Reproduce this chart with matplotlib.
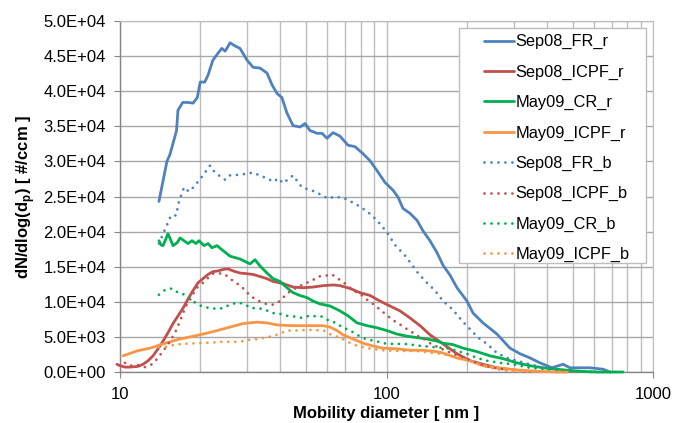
import numpy as np
import matplotlib
matplotlib.use("Agg")
import matplotlib.pyplot as plt
from matplotlib.ticker import LogLocator, FixedLocator, FuncFormatter, MultipleLocator
from matplotlib.patches import Rectangle

plt.rcParams["font.family"] = ["Liberation Sans", "DejaVu Sans"]

# --- data (mobility diameter in nm, dN/dlog(dp) in #/ccm) ---
SERIES_NAMES = ["Sep08_FR_r", "Sep08_ICPF_r", "May09_CR_r", "May09_ICPF_r",
                "Sep08_FR_b", "Sep08_ICPF_b", "May09_CR_b", "May09_ICPF_b"]

sep08_fr_r_d = [14.0, 15.0, 15.4, 16.3, 16.5, 17.2, 18.0, 18.8, 19.5, 20.0,
                20.8, 21.4, 22.3, 23.3, 24.1, 24.8, 25.9, 26.6, 27.5, 28.2,
                30.0, 31.6, 33.5, 35.6, 37.2, 38.8, 40.5, 42.3, 44.6, 47.4,
                49.5, 51.6, 54.9, 57.3, 59.8, 63.0, 66.9, 71.7, 76.2, 81.6,
                86.7, 92.1, 98.7, 105.8, 110.5, 115.3, 122.5, 130.2, 137.1, 145.6,
                154.7, 163.0, 173.1, 183.9, 200.5, 211.2, 230.1, 259.8, 290.6, 317.0,
                345.6, 376.7, 417.8, 459.5, 488.2, 532.1, 580.1, 649.1, 689.6]
sep08_fr_r_n = [24300, 30000, 31000, 34400, 37300, 38400, 38400, 38300, 39100, 41300,
                41300, 42300, 44400, 45400, 46100, 45700, 46900, 46600, 46300, 46100,
                44400, 43400, 43300, 42600, 40900, 39700, 39100, 36900, 35100, 34900,
                35400, 34400, 34000, 34000, 33300, 34100, 33600, 32300, 32100, 31100,
                30100, 28700, 27000, 25900, 24900, 23300, 22600, 21600, 20100, 18700,
                17000, 15200, 13800, 12000, 10100, 8400, 7000, 5400, 3400, 2600,
                2000, 1300, 600, 1100, 600, 600, 600, 400, 0]

sep08_icpf_r_d = [9.74, 10.0, 10.44, 10.92, 11.68, 12.2, 12.74, 13.3, 13.89, 14.5,
                  15.14, 15.81, 16.51, 17.24, 18.0, 18.79, 19.62, 20.48, 21.39, 22.34,
                  23.32, 24.35, 25.42, 26.55, 28.2, 29.96, 31.56, 33.52, 35.61, 37.5,
                  40.89, 44.59, 48.6, 53.0, 57.78, 63.0, 66.93, 72.98, 79.56, 86.74,
                  94.54, 103.1, 112.4, 122.5, 133.6, 145.6, 163.0, 183.9, 205.8, 230.1,
                  259.8, 283.3]
sep08_icpf_r_n = [1100, 900, 700, 700, 800, 1100, 1600, 2300, 3300, 4400,
                  5600, 6900, 8000, 9100, 10400, 11600, 12700, 13300, 13900, 14300,
                  14400, 14600, 14700, 14400, 14100, 14000, 13900, 13600, 13300, 12900,
                  12600, 12100, 12000, 12100, 12300, 12400, 12300, 11900, 11300, 10900,
                  10100, 9400, 8700, 7700, 6600, 5300, 4000, 2600, 1600, 1100,
                  600, 400]

may09_cr_r_d = [14.0, 14.25, 14.5, 14.88, 15.14, 15.54, 15.81, 16.37, 16.8, 17.39,
                18.0, 18.63, 19.28, 19.79, 20.66, 21.39, 22.14, 23.12, 24.35, 25.87,
                28.2, 30.74, 32.11, 33.52, 35.61, 37.5, 39.85, 42.33, 44.59, 47.36,
                50.31, 53.0, 56.3, 61.38, 66.93, 71.73, 77.52, 84.52, 92.13, 100.4,
                109.5, 119.4, 130.2, 141.9, 154.7, 163.0, 177.6, 193.7, 218.6, 244.6,
                273.6, 308.8, 345.6, 386.6, 459.5, 532.1, 616.3, 771.7]
may09_cr_r_n = [18700, 18100, 18000, 19000, 19700, 18700, 18000, 18400, 19100, 18700,
                18300, 18700, 18300, 18700, 18000, 18300, 17700, 18000, 17300, 16500,
                16100, 15400, 16000, 15100, 14100, 13300, 12900, 12000, 11300, 10900,
                10600, 10100, 9700, 9400, 8700, 8000, 7000, 6600, 6300, 5900,
                5400, 5100, 4900, 4700, 4400, 4100, 3900, 3400, 2900, 2300,
                1900, 1300, 900, 600, 300, 100, 0, 0]

may09_icpf_r_d = [10.26, 11.58, 12.96, 14.5, 16.37, 18.31, 20.48, 23.12, 25.87, 28.94,
                  32.67, 35.61, 38.82, 44.59, 51.64, 57.78, 61.38, 65.22, 68.69, 74.9,
                  81.65, 89.02, 97.02, 109.5, 122.5, 137.1, 154.7, 163.0, 183.9, 205.8,
                  230.1, 259.8, 308.8, 367.1, 436.3, 475.7]
may09_icpf_r_n = [2300, 3000, 3400, 4000, 4600, 5000, 5400, 5900, 6400, 6900,
                  7100, 7000, 6700, 6600, 6600, 6600, 6400, 5900, 5300, 4700,
                  4100, 3700, 3400, 3300, 3100, 3100, 2900, 2700, 2000, 1600,
                  900, 600, 300, 100, 0, 0]

sep08_fr_b_d = [14.0, 14.75, 15.54, 16.23, 16.65, 17.39, 18.15, 18.95, 19.79, 20.48,
                21.76, 22.72, 24.77, 25.64, 28.2, 31.56, 35.0, 37.83, 39.16, 40.89,
                44.59, 48.19, 53.92, 60.33, 64.1, 69.89, 76.86, 84.52, 92.13, 100.4,
                107.6, 117.3, 131.3, 141.9, 152.1, 163.0, 176.1, 192.0, 205.8, 220.5,
                238.4, 259.8, 283.3, 308.8, 345.6, 386.6, 436.3]
sep08_fr_b_n = [18300, 20300, 22300, 22300, 24300, 26300, 25700, 26400, 27300, 28000,
                29400, 28400, 27400, 28000, 28100, 28400, 27700, 27100, 27600, 26900,
                28000, 26300, 25700, 24700, 25000, 24700, 23900, 22900, 21600, 19900,
                18100, 16600, 14100, 12700, 11600, 10100, 9000, 7300, 6100, 4900,
                4000, 2700, 2000, 1600, 1100, 600, 400]

sep08_icpf_b_d = [10.44, 10.92, 11.68, 12.41, 13.18, 13.89, 14.5, 15.01, 15.54, 16.08,
                  16.51, 16.94, 17.24, 17.69, 18.31, 18.79, 19.45, 20.48, 21.39, 22.34,
                  23.32, 24.77, 25.87, 27.24, 28.7, 29.96, 31.56, 33.24, 35.3, 37.5,
                  39.85, 41.61, 44.2, 46.55, 49.45, 52.54, 55.34, 58.79, 62.44, 65.78,
                  69.29, 72.98, 76.86, 80.94, 84.52, 89.02, 93.74, 98.71, 104.0, 108.6,
                  114.3, 119.4, 125.7, 131.3, 138.3, 145.6, 158.8, 177.6, 200.5, 224.4,
                  251.0, 273.6]
sep08_icpf_b_n = [1300, 900, 1000, 700, 1100, 2000, 3000, 3700, 4600, 5600,
                  6600, 7600, 8400, 9400, 10300, 11100, 12000, 12700, 13400, 14000,
                  14100, 13900, 13300, 12700, 12100, 11300, 10600, 10100, 9700, 9600,
                  10100, 10900, 11700, 12100, 12600, 13000, 13600, 13700, 13900, 13300,
                  12700, 12000, 11400, 10900, 10300, 9700, 9000, 8300, 7600, 7100,
                  6600, 6100, 5600, 5100, 4700, 4100, 3400, 2600, 1900, 1100,
                  600, 400]

may09_cr_b_d = [14.0, 14.75, 15.67, 16.51, 17.54, 18.47, 19.45, 20.48, 21.76, 23.12,
                24.35, 25.87, 27.72, 29.2, 31.01, 32.96, 35.0, 37.18, 39.85, 42.33,
                45.36, 48.19, 51.19, 57.28, 60.85, 64.66, 68.69, 72.35, 76.86, 80.94,
                85.26, 91.36, 97.02, 104.9, 117.3, 135.9, 154.7, 168.7, 183.9, 200.5,
                218.6, 238.4, 266.6, 298.3, 345.6, 400.2, 459.5, 518.6, 595.4]
may09_cr_b_n = [11000, 11700, 11900, 11300, 11000, 10300, 9700, 9300, 9100, 9000,
                9100, 9600, 9900, 9700, 9100, 9100, 8900, 8400, 8300, 8000,
                7900, 7700, 8000, 7900, 7300, 7000, 6300, 6000, 5400, 4900,
                4600, 4400, 4100, 4000, 4000, 3700, 3500, 3400, 3000, 2600,
                2000, 1600, 1300, 1100, 600, 400, 300, 100, 0]

may09_icpf_b_d = [14.0, 14.88, 16.08, 17.24, 19.45, 22.34, 23.73, 27.01, 28.94, 30.74,
                  32.96, 35.0, 37.18, 39.5, 42.33, 44.97, 51.19, 58.28, 61.91, 65.78,
                  69.29, 74.25, 78.2, 84.52, 96.19, 110.5, 127.9, 137.1, 149.4, 163.0,
                  183.9, 205.8, 230.1, 259.8, 290.6, 336.7, 386.6]
may09_icpf_b_n = [3500, 3600, 3900, 4000, 4100, 4200, 4300, 4300, 4400, 4600,
                  4700, 4900, 5100, 5400, 5900, 5900, 6000, 5900, 5300, 5000,
                  4600, 4000, 3700, 3400, 3100, 3000, 3000, 2900, 2700, 2600,
                  2000, 1600, 900, 400, 100, 0, 0]

X_DATA = [sep08_fr_r_d, sep08_icpf_r_d, may09_cr_r_d, may09_icpf_r_d,
          sep08_fr_b_d, sep08_icpf_b_d, may09_cr_b_d, may09_icpf_b_d]
Y_DATA = [sep08_fr_r_n, sep08_icpf_r_n, may09_cr_r_n, may09_icpf_r_n,
          sep08_fr_b_n, sep08_icpf_b_n, may09_cr_b_n, may09_icpf_b_n]

COLORS = ["#4F81BD", "#C0504D", "#00B050", "#F79646"] * 2
STYLES = ["-"] * 4 + [(0, (0.01, 2.5))] * 4


def main():
    fig = plt.figure(figsize=(6.73, 4.23), dpi=100)
    ax = fig.add_axes([120 / 673, 1 - 372 / 423, 533 / 673, 351 / 423])

    for xs, ys, name, c, ls in zip(X_DATA, Y_DATA, SERIES_NAMES, COLORS, STYLES):
        ax.plot(xs, ys, color=c, linestyle=ls, lw=2.0, label=name,
                solid_capstyle="round", dash_capstyle="round",
                clip_on=False, zorder=3)

    ax.set_xscale("log")
    ax.set_xlim(10, 1000)
    ax.set_ylim(0, 50000)

    ax.xaxis.set_major_locator(FixedLocator([10, 100, 1000]))
    ax.xaxis.set_major_formatter(FuncFormatter(lambda v, p: f"{int(v)}"))
    ax.xaxis.set_minor_locator(LogLocator(base=10, subs=np.arange(2, 10)))
    ax.xaxis.set_minor_formatter(FuncFormatter(lambda v, p: ""))
    ax.yaxis.set_major_locator(MultipleLocator(5000))
    ax.yaxis.set_major_formatter(FuncFormatter(lambda v, p: f"{v:.1E}"))

    ax.grid(True, which="both", axis="x", color="#bdbdbd", lw=1.0)
    ax.grid(True, which="major", axis="y", color="#a8a8a8", lw=1.0)
    ax.set_axisbelow(True)

    for s in ["top", "right"]:
        ax.spines[s].set_color("#bdbdbd")
    for s in ["left", "bottom"]:
        ax.spines[s].set_color("#868686")
        ax.spines[s].set_linewidth(1.0)

    ax.tick_params(axis="both", which="major", direction="out", length=4,
                   color="#868686", labelsize=12, pad=6)
    ax.tick_params(axis="x", which="minor", length=0)
    ax.tick_params(axis="x", which="major", pad=7)

    ax.set_xlabel("Mobility diameter [ nm ]", fontsize=12, fontweight="bold", labelpad=3)
    ax.set_ylabel(r"dN/dlog(d$_\mathregular{p}$) [ #/ccm ]", fontsize=12,
                  fontweight="bold", labelpad=5)

    # legend box drawn as a plain square frame like the original
    box = Rectangle((0.636, 0.3105), 0.351, 0.6695, transform=ax.transAxes,
                    facecolor="white", edgecolor="#bdbdbd", lw=1.0, zorder=4)
    ax.add_patch(box)
    leg = ax.legend(loc="upper left", bbox_to_anchor=(0.683, 0.962), frameon=False,
                    fontsize=11.8, handlelength=1.8, handletextpad=0.1,
                    labelspacing=0.93, borderpad=0, borderaxespad=0)
    leg.set_zorder(5)

    fig.savefig("out.png", dpi=100)
    plt.close(fig)


if __name__ == "__main__":
    main()
